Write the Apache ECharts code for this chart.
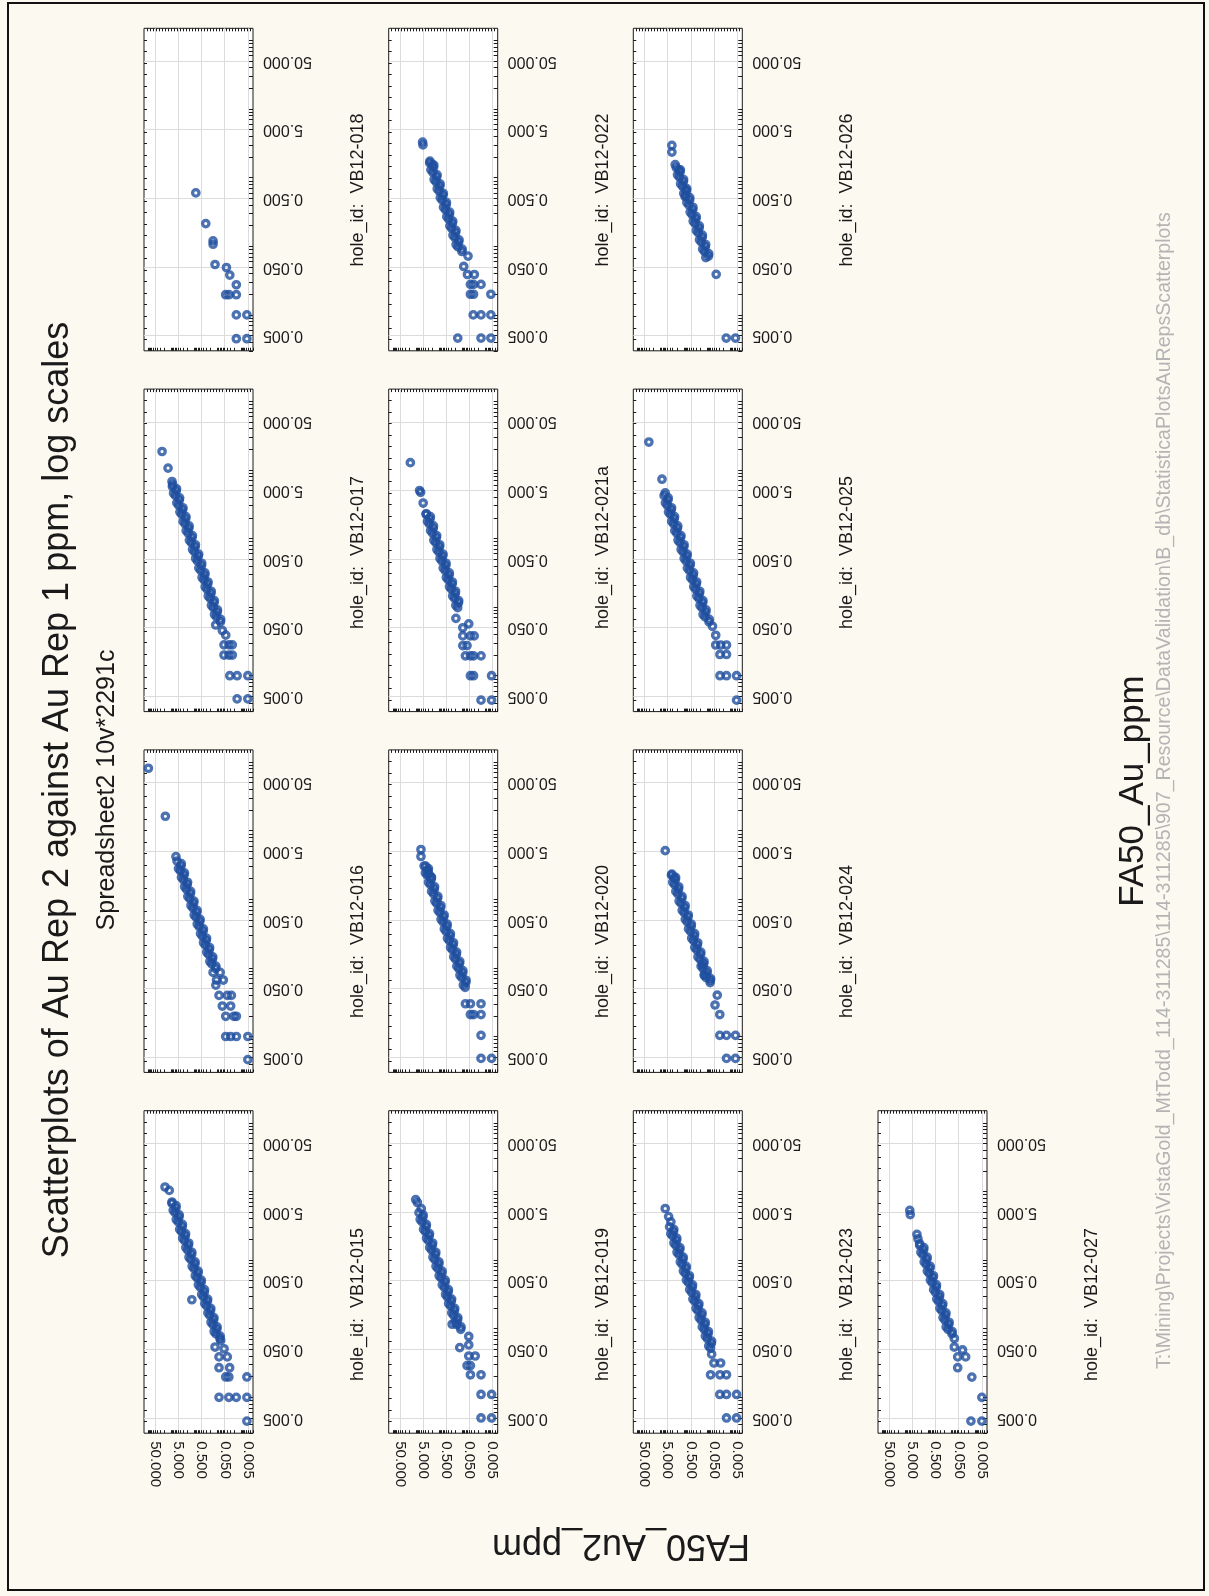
<!DOCTYPE html>
<html>
<head>
<meta charset="utf-8">
<script src="https://cdn.jsdelivr.net/npm/echarts@6/dist/echarts.min.js"></script>
<style>
  html, body { margin: 0; padding: 0; background: #fcf9f1; }
  #chart { width: 1209px; height: 1596px; }
</style>
</head>
<body>
<div id="chart"></div>
<script>
// ---- text ----
const TITLE = 'Scatterplots of Au Rep 2 against Au Rep 1 ppm, log scales';
const SUBTITLE = 'Spreadsheet2 10v*2291c';
const X_TITLE = 'FA50_Au_ppm';
const Y_TITLE = 'FA50_Au2_ppm';
const FOOTER = 'T:\\Mining\\Projects\\VistaGold_MtTodd_114-311285\\114-311285\\907_Resource\\DataValidation\\B_db\\StatisticaPlotsAuRepsScatterplots';

// ---- axes (ppm, log scale) ----
const AXIS_MIN = 0.003;
const AXIS_MAX = 150;
const MAJOR_TICKS = [0.005, 0.05, 0.5, 5, 50];

// ---- hole ids, in panel order ----
const holeIds = ['VB12-015', 'VB12-016', 'VB12-017', 'VB12-018',
                 'VB12-019', 'VB12-020', 'VB12-021a', 'VB12-022',
                 'VB12-023', 'VB12-024', 'VB12-025', 'VB12-026',
                 'VB12-027'];

// ---- assays per hole: [FA50_Au2_ppm, FA50_Au_ppm] ----
const VB12_015 = [[18.6,11.6],[12.2,10.35],[9.3,7.0],
  [9.38,6.7],[6.33,5.7],[6.86,4.9],[4.66,4.2],[5.04,3.6],[3.39,3.05],[3.64,2.6],[2.5,2.25],[2.69,1.92],[1.82,1.64],
  [1.96,1.4],[1.33,1.2],[1.43,1.02],[0.966,0.87],[1.05,0.75],[0.71,0.64],[0.77,0.55],[0.52,0.47],[0.56,0.4],[0.377,0.34],
  [0.406,0.29],[0.278,0.25],[0.301,0.215],[0.203,0.183],[0.22,0.157],[0.149,0.134],[0.161,0.115],[0.109,0.098],[0.118,0.084],[0.08,0.072],
  [6.2,6.2],[8.27,5.3],[4.55,4.55],[6.08,3.9],[3.3,3.3],[4.37,2.8],[2.42,2.42],[3.24,2.08],[1.77,1.77],[2.37,1.52],
  [1.3,1.3],[1.72,1.1],[0.94,0.94],[1.26,0.81],[0.69,0.69],[0.92,0.59],[0.51,0.51],[0.68,0.435],[0.37,0.37],[0.49,0.315],
  [0.27,0.27],[0.362,0.232],[0.198,0.198],[0.265,0.17],[0.145,0.145],[0.193,0.124],[0.106,0.106],[0.142,0.091],[0.078,0.078],
  [1.3,0.264],
  [0.13,0.054],[0.074,0.0675],[0.053,0.051],[0.0875,0.0388],[0.0384,0.0388],[0.0875,0.027],[0.0305,0.027],[0.045,0.0198],
  [0.033,0.0198],[0.0055,0.0198],[0.0875,0.01],[0.033,0.01],[0.0158,0.01],[0.0055,0.01],[0.0055,0.0045]];

const VB12_016 = [[97,81],[18,16.2],[6.3,4.18],
  [5.65,3.6],[3.81,3.05],[4.08,2.6],[2.81,2.25],[3.01,1.92],[2.05,1.64],[2.2,1.4],[1.5,1.2],[1.6,1.02],[1.09,0.87],
  [1.18,0.75],[0.8,0.64],[0.86,0.55],[0.59,0.47],[0.63,0.4],[0.425,0.34],[0.455,0.29],[0.31,0.25],[0.34,0.215],[0.23,0.183],
  [0.246,0.157],[0.168,0.134],[0.18,0.115],[0.123,0.098],
  [3.7,3.3],[4.9,2.8],[2.71,2.42],[3.64,2.08],[1.98,1.77],[2.66,1.52],[1.46,1.3],[1.93,1.1],[1.05,0.94],[1.42,0.81],
  [0.77,0.69],[1.03,0.59],[0.57,0.51],[0.76,0.435],[0.414,0.37],[0.55,0.315],[0.302,0.27],[0.406,0.232],[0.222,0.198],
  [0.298,0.17],[0.162,0.145],[0.217,0.124],[0.119,0.106],
  [0.158,0.086],[0.078,0.086],[0.112,0.0665],[0.057,0.0665],[0.12,0.056],[0.0875,0.0397],[0.0384,0.0397],[0.0257,0.0397],
  [0.063,0.0278],[0.0276,0.0278],[0.045,0.0197],[0.02,0.0197],[0.0156,0.0197],[0.045,0.01],[0.0276,0.01],[0.0156,0.01],
  [0.005,0.01],[0.005,0.0046]];

const VB12_017 = [[25,18.5],[13.8,10.6],[9.3,6.75],[8.74,6.1],
  [8.95,5.7],[6.13,4.9],[6.59,4.2],[4.5,3.6],[4.79,3.05],[3.25,2.6],[3.53,2.25],[2.4,1.92],[2.57,1.64],[1.75,1.4],
  [1.88,1.2],[1.28,1.02],[1.37,0.87],[0.94,0.75],[1.0,0.64],[0.69,0.55],[0.74,0.47],[0.5,0.4],[0.53,0.34],[0.36,0.29],
  [0.39,0.25],[0.27,0.215],[0.29,0.183],[0.196,0.157],[0.21,0.134],[0.144,0.115],[0.154,0.098],[0.105,0.084],[0.113,0.072],[0.076,0.061],
  [5.94,5.3],[7.96,4.55],[4.37,3.9],[5.78,3.3],[3.14,2.8],[4.24,2.42],[2.33,2.08],[3.1,1.77],[1.7,1.52],[2.28,1.3],
  [1.23,1.1],[1.65,0.94],[0.91,0.81],[1.21,0.69],[0.66,0.59],[0.89,0.51],[0.487,0.435],[0.65,0.37],[0.353,0.315],[0.47,0.27],
  [0.26,0.232],[0.347,0.198],[0.19,0.17],[0.254,0.145],[0.139,0.124],[0.186,0.106],[0.102,0.091],[0.137,0.078],[0.074,0.066],
  [0.122,0.0548],[0.063,0.0456],[0.045,0.039],[0.0534,0.0282],[0.0326,0.0282],[0.0234,0.0282],[0.0534,0.02],[0.0326,0.02],
  [0.0234,0.02],[0.03,0.01],[0.0145,0.01],[0.005,0.01],[0.0145,0.0046],[0.005,0.0046]];

const VB12_018 = [[0.875,0.6],[0.326,0.214],[0.158,0.12],[0.158,0.107],[0.13,0.0543],[0.042,0.049],[0.03,0.038],
  [0.0157,0.0275],[0.0453,0.0197],[0.0326,0.0197],[0.0157,0.0197],[0.0157,0.01],[0.0055,0.01],[0.0157,0.0045],[0.0055,0.0045]];

const VB12_019 = [[10.3,7.6],[8.7,6.9],[5.9,5.6],
  [7.4,4.9],[5.04,4.2],[5.44,3.6],[3.66,3.05],[3.93,2.6],[2.7,2.25],[2.9,1.92],[1.97,1.64],[2.11,1.4],[1.44,1.2],
  [1.54,1.02],[1.04,0.87],[1.13,0.75],[0.77,0.64],[0.83,0.55],[0.56,0.47],[0.6,0.4],[0.41,0.34],[0.44,0.29],[0.3,0.25],
  [0.325,0.215],[0.22,0.183],[0.237,0.157],[0.161,0.134],[0.174,0.115],[0.118,0.098],
  [4.91,4.55],[6.59,3.9],[3.56,3.3],[4.73,2.8],[2.61,2.42],[3.52,2.08],[1.91,1.77],[2.57,1.52],[1.4,1.3],[1.86,1.1],
  [1.02,0.94],[1.37,0.81],[0.745,0.69],[1.0,0.59],[0.55,0.51],[0.735,0.435],[0.4,0.37],[0.53,0.315],[0.29,0.27],
  [0.392,0.232],[0.214,0.198],[0.287,0.17],[0.157,0.145],[0.21,0.124],[0.114,0.106],
  [0.276,0.116],[0.13,0.053],[0.053,0.077],[0.053,0.058],[0.053,0.04],[0.028,0.04],[0.063,0.029],[0.045,0.029],
  [0.045,0.0213],[0.0157,0.0213],[0.0157,0.011],[0.0055,0.011],[0.0157,0.005],[0.0055,0.005]];

const VB12_020 = [[6.1,5.3],[6.1,4.2],[3.84,3.04],[3.26,2.62],[2.76,2.32],[2.2,2.09],
  [4.45,3.05],[3.02,2.6],[3.29,2.25],[2.23,1.92],[2.39,1.64],[1.62,1.4],[1.75,1.2],[1.18,1.02],[1.27,0.87],[0.87,0.75],
  [0.93,0.64],[0.64,0.55],[0.69,0.47],[0.46,0.4],[0.5,0.34],[0.336,0.29],[0.365,0.25],[0.25,0.215],[0.267,0.183],[0.182,0.157],
  [0.196,0.134],[0.133,0.115],[0.143,0.098],[0.097,0.084],[0.105,0.072],[0.071,0.061],[0.076,0.052],
  [2.91,2.8],[3.94,2.42],[2.16,2.08],[2.89,1.77],[1.58,1.52],[2.12,1.3],[1.14,1.1],[1.53,0.94],[0.84,0.81],[1.12,0.69],
  [0.61,0.59],[0.83,0.51],[0.452,0.435],[0.6,0.37],[0.328,0.315],[0.44,0.27],[0.241,0.232],[0.323,0.198],[0.177,0.17],
  [0.236,0.145],[0.129,0.124],[0.173,0.106],[0.095,0.091],[0.127,0.078],[0.069,0.066],[0.091,0.056],
  [0.074,0.03],[0.045,0.03],[0.0157,0.03],[0.045,0.0209],[0.033,0.0209],[0.0157,0.0209],[0.0157,0.0104],
  [0.0157,0.0048],[0.0055,0.0048]];

const VB12_021a = [[17.5,12.7],[7.0,5.0],[6.3,4.7],[4.9,3.28],[3.6,2.29],
  [3.65,2.25],[2.48,1.92],[2.66,1.64],[1.81,1.4],[1.94,1.2],[1.32,1.02],[1.41,0.87],[0.97,0.75],[1.04,0.64],[0.71,0.55],
  [0.76,0.47],[0.52,0.4],[0.55,0.34],[0.374,0.29],[0.405,0.25],[0.277,0.215],[0.296,0.183],[0.203,0.157],[0.217,0.134],
  [0.148,0.115],[0.159,0.098],
  [2.41,2.08],[3.2,1.77],[1.76,1.52],[2.35,1.3],[1.28,1.1],[1.7,0.94],[0.94,0.81],[1.25,0.69],[0.68,0.59],[0.92,0.51],
  [0.505,0.435],[0.67,0.37],[0.365,0.315],[0.49,0.27],[0.269,0.232],[0.358,0.198],[0.197,0.17],[0.262,0.145],
  [0.144,0.124],[0.192,0.106],
  [0.19,0.0685],[0.096,0.05],[0.053,0.057],[0.096,0.038],[0.045,0.038],[0.031,0.038],[0.096,0.0275],[0.063,0.0275],
  [0.074,0.0195],[0.045,0.0195],[0.033,0.0195],[0.0157,0.0195],[0.045,0.01],[0.033,0.01],[0.0055,0.01],
  [0.0157,0.0044],[0.0055,0.0044]];

const VB12_022 = [[5.2,3.3],[5.0,3.0],[2.5,1.74],[1.99,1.55],
  [2.57,1.64],[1.75,1.4],[1.88,1.2],[1.28,1.02],[1.37,0.87],[0.94,0.75],[1.0,0.64],[0.69,0.55],[0.74,0.47],[0.5,0.4],
  [0.53,0.34],[0.36,0.29],[0.39,0.25],[0.27,0.215],[0.29,0.183],[0.196,0.157],[0.21,0.134],[0.144,0.115],[0.154,0.098],[0.105,0.084],
  [1.7,1.52],[2.28,1.3],[1.23,1.1],[1.65,0.94],[0.91,0.81],[1.21,0.69],[0.66,0.59],[0.89,0.51],[0.487,0.435],[0.65,0.37],
  [0.353,0.315],[0.47,0.27],[0.26,0.232],[0.347,0.198],[0.19,0.17],[0.254,0.145],[0.139,0.124],[0.186,0.106],[0.102,0.091],
  [0.057,0.072],[0.0875,0.0508],[0.0605,0.0388],[0.0305,0.0388],[0.045,0.0278],[0.033,0.0278],[0.0157,0.0278],
  [0.045,0.02],[0.033,0.02],[0.0059,0.02],[0.034,0.01],[0.0157,0.01],[0.0059,0.01],[0.158,0.0046],[0.0157,0.0046],[0.0059,0.0046]];

const VB12_023 = [[6.3,5.64],[4.5,4.3],[3.6,3.6],
  [4.09,3.05],[2.78,2.6],[3.02,2.25],[2.05,1.92],[2.2,1.64],[1.5,1.4],[1.61,1.2],[1.09,1.02],[1.17,0.87],[0.8,0.75],
  [0.86,0.64],[0.59,0.55],[0.63,0.47],[0.43,0.4],[0.456,0.34],[0.31,0.29],[0.335,0.25],[0.23,0.215],[0.245,0.183],[0.168,0.157],
  [0.18,0.134],[0.123,0.115],[0.131,0.098],[0.09,0.084],[0.096,0.072],[0.065,0.061],[0.07,0.052],
  [2.69,2.8],[3.63,2.42],[2.0,2.08],[2.66,1.77],[1.46,1.52],[1.95,1.3],[1.06,1.1],[1.41,0.94],[0.78,0.81],[1.04,0.69],
  [0.57,0.59],[0.77,0.51],[0.418,0.435],[0.555,0.37],[0.302,0.315],[0.405,0.27],[0.223,0.232],[0.297,0.198],[0.163,0.17],
  [0.218,0.145],[0.119,0.124],[0.159,0.106],[0.087,0.091],[0.117,0.078],[0.063,0.066],[0.084,0.056],
  [0.063,0.0425],[0.05,0.0316],[0.0257,0.0316],[0.07,0.0213],[0.0276,0.0213],[0.0144,0.0213],[0.028,0.011],
  [0.0144,0.011],[0.0053,0.011],[0.0144,0.005],[0.0053,0.005]];

const VB12_024 = [[6.3,5.1],[3.26,2.32],[2.6,2.07],
  [3.4,2.25],[2.3,1.92],[2.48,1.64],[1.68,1.4],[1.81,1.2],[1.22,1.02],[1.31,0.87],[0.9,0.75],[0.97,0.64],[0.66,0.55],
  [0.71,0.47],[0.48,0.4],[0.51,0.34],[0.35,0.29],[0.38,0.25],[0.26,0.215],[0.276,0.183],[0.188,0.157],[0.2,0.134],[0.138,0.115],
  [0.148,0.098],[0.1,0.084],[0.109,0.072],[0.073,0.061],
  [2.25,2.08],[2.99,1.77],[1.64,1.52],[2.2,1.3],[1.19,1.1],[1.59,0.94],[0.875,0.81],[1.17,0.69],[0.637,0.59],[0.86,0.51],
  [0.47,0.435],[0.625,0.37],[0.34,0.315],[0.456,0.27],[0.25,0.232],[0.335,0.198],[0.184,0.17],[0.245,0.145],[0.134,0.124],
  [0.179,0.106],[0.098,0.091],[0.132,0.078],[0.071,0.066],
  [0.158,0.111],[0.127,0.079],[0.07,0.07],[0.036,0.04],[0.045,0.0288],[0.028,0.0209],[0.028,0.0104],[0.0144,0.0104],
  [0.0059,0.0104],[0.0144,0.0048],[0.0059,0.0048]];

const VB12_025 = [[32,25.4],[8.7,7.3],[6.3,4.6],
  [7.06,4.2],[4.82,3.6],[5.12,3.05],[3.48,2.6],[3.78,2.25],[2.57,1.92],[2.76,1.64],[1.88,1.4],[2.02,1.2],[1.37,1.02],
  [1.46,0.87],[1.0,0.75],[1.08,0.64],[0.74,0.55],[0.79,0.47],[0.54,0.4],[0.57,0.34],[0.39,0.29],[0.42,0.25],[0.29,0.215],
  [0.31,0.183],[0.21,0.157],[0.225,0.134],[0.154,0.115],[0.165,0.098],[0.113,0.084],[0.121,0.072],[0.082,0.061],
  [4.68,3.9],[6.2,3.3],[3.36,2.8],[4.55,2.42],[2.5,2.08],[3.33,1.77],[1.82,1.52],[2.44,1.3],[1.32,1.1],[1.77,0.94],
  [0.97,0.81],[1.3,0.69],[0.71,0.59],[0.96,0.51],[0.52,0.435],[0.7,0.37],[0.378,0.315],[0.51,0.27],[0.278,0.232],
  [0.372,0.198],[0.204,0.17],[0.273,0.145],[0.149,0.124],[0.2,0.106],[0.109,0.091],[0.147,0.078],[0.079,0.066],
  [0.058,0.0525],[0.042,0.0388],[0.042,0.028],[0.0257,0.028],[0.0144,0.028],[0.0276,0.0204],[0.0144,0.0204],
  [0.0276,0.01],[0.0144,0.01],[0.0053,0.01],[0.0053,0.0044]];

const VB12_026 = [[3.26,2.95],[3.26,2.36],[2.34,1.55],[1.6,1.29],[0.82,0.66],[0.88,0.53],
  [2.11,1.4],[1.44,1.2],[1.54,1.02],[1.04,0.87],[1.13,0.75],[0.77,0.64],[0.83,0.55],[0.56,0.47],[0.6,0.4],[0.41,0.34],
  [0.44,0.29],[0.3,0.25],[0.325,0.215],[0.22,0.183],[0.237,0.157],[0.161,0.134],[0.174,0.115],[0.118,0.098],[0.127,0.084],[0.086,0.072],
  [1.4,1.3],[1.86,1.1],[1.02,0.94],[1.37,0.81],[0.745,0.69],[1.0,0.59],[0.55,0.51],[0.735,0.435],[0.4,0.37],[0.53,0.315],
  [0.29,0.27],[0.392,0.232],[0.214,0.198],[0.287,0.17],[0.157,0.145],[0.21,0.124],[0.114,0.106],[0.154,0.091],[0.084,0.078],
  [0.112,0.0685],[0.04,0.039],[0.0148,0.0046],[0.0059,0.0046]];

const VB12_027 = [[6.4,5.29],[6.1,4.6],[3.15,2.37],[2.85,2.04],[2.4,1.73],
  [2.39,1.64],[1.62,1.4],[1.75,1.2],[1.18,1.02],[1.27,0.87],[0.87,0.75],[0.93,0.64],[0.64,0.55],[0.69,0.47],[0.46,0.4],
  [0.5,0.34],[0.336,0.29],[0.365,0.25],[0.25,0.215],[0.267,0.183],[0.182,0.157],[0.196,0.134],[0.133,0.115],[0.143,0.098],[0.097,0.084],
  [1.58,1.52],[2.12,1.3],[1.14,1.1],[1.53,0.94],[0.84,0.81],[1.12,0.69],[0.61,0.59],[0.83,0.51],[0.452,0.435],[0.6,0.37],
  [0.328,0.315],[0.44,0.27],[0.241,0.232],[0.323,0.198],[0.177,0.17],[0.236,0.145],[0.129,0.124],[0.173,0.106],[0.095,0.091],
  [0.077,0.072],[0.077,0.054],[0.034,0.049],[0.055,0.0388],[0.025,0.0388],[0.055,0.027],[0.0135,0.0197],[0.005,0.01],
  [0.0148,0.0045],[0.005,0.0045]];

const holeData = [VB12_015, VB12_016, VB12_017, VB12_018, VB12_019, VB12_020, VB12_021a,
                  VB12_022, VB12_023, VB12_024, VB12_025, VB12_026, VB12_027];

// ---- page layout (the sheet is printed turned a quarter turn) ----
const PANEL_W = 109, PANEL_H = 322.5;
const COL_X = [144, 388.7, 633.3, 878];          // one column per group of four holes
const ROW_Y = [28.3, 389.1, 749.9, 1110.7];       // top of each panel row
const LABEL_X = [358, 602.7, 847.4, 1092];
const LABEL_Y = [266.6, 629, 1018, 1381];         // where each hole caption starts
const INK = '#1a1a1a';
const MARK = '#1f4f9f';
const FONT = '"Liberation Sans", Arial, sans-serif';

const L0 = Math.log10(AXIS_MIN), L1 = Math.log10(AXIS_MAX);
const majorLog = MAJOR_TICKS.map(v => Math.log10(v));
const minorLog = [];
for (let e = -3; e <= 2; e++) {
  for (let k = 1; k <= 9; k++) {
    const v = Math.log10(k * Math.pow(10, e));
    if (v >= L0 && v <= L1) minorLog.push(v);
  }
}
function evenTicks(n) {
  const out = [];
  for (let j = 1; j < n; j++) out.push(L0 + (L1 - L0) * j / n);
  return out;
}
const fmt = v => Math.pow(10, v).toFixed(3);

const grids = [], xAxes = [], yAxes = [], series = [], graphics = [];

holeData.forEach((pts, i) => {
  const col = Math.floor(i / 4);
  const row = 3 - (i % 4);
  const left = COL_X[col], top = ROW_Y[row];
  grids.push({
    left: left, top: top, width: PANEL_W, height: PANEL_H,
    show: true, backgroundColor: '#ffffff', borderColor: INK, borderWidth: 1
  });
  const base = { gridIndex: i, type: 'value', min: L0, max: L1, splitLine: { show: false },
                 axisLine: { show: false, onZero: false }, axisLabel: { show: false }, axisTick: { show: false } };
  // horizontal: FA50_Au2_ppm, high values on the left
  xAxes.push(Object.assign({}, base, {
    position: 'bottom', inverse: true,
    axisTick: { show: false, customValues: majorLog },
    splitLine: { show: true, lineStyle: { color: '#dcdcdc', width: 1 } },
    axisLabel: { show: row === 3, customValues: majorLog, rotate: -90, margin: 8,
                 formatter: fmt, fontSize: 15, fontFamily: FONT, color: INK }
  }));
  xAxes.push(Object.assign({}, base, {
    position: 'bottom', inverse: true,
    axisTick: { show: true, inside: true, length: 3, customValues: minorLog, lineStyle: { color: INK, width: 1 } }
  }));
  xAxes.push(Object.assign({}, base, {
    position: 'top', inverse: true,
    axisTick: { show: true, inside: true, length: 3, customValues: evenTicks(36), lineStyle: { color: INK, width: 1 } }
  }));
  // vertical: FA50_Au_ppm
  yAxes.push(Object.assign({}, base, {
    position: 'right',
    axisTick: { show: false, customValues: majorLog },
    splitLine: { show: true, lineStyle: { color: '#dcdcdc', width: 1 } },
    axisLabel: { show: true, customValues: majorLog, rotate: 180, margin: 10,
                 formatter: fmt, fontSize: 16, fontFamily: FONT, color: INK }
  }));
  yAxes.push(Object.assign({}, base, {
    position: 'right',
    axisTick: { show: true, inside: true, length: 4, customValues: minorLog, lineStyle: { color: INK, width: 1 } }
  }));
  yAxes.push(Object.assign({}, base, {
    position: 'left',
    axisTick: { show: true, inside: true, length: 3, customValues: evenTicks(28), lineStyle: { color: INK, width: 1 } }
  }));
  series.push({
    type: 'scatter', name: holeIds[i], xAxisIndex: 3 * i, yAxisIndex: 3 * i,
    data: pts.map(p => [Math.log10(p[0]), Math.log10(p[1])]),
    symbol: 'circle', symbolSize: 6.4, silent: true,
    itemStyle: { color: 'rgba(0,0,0,0)', borderColor: MARK, borderWidth: 3.3 }
  });
  graphics.push({
    type: 'text', x: LABEL_X[col], y: LABEL_Y[row], rotation: Math.PI / 2,
    style: { text: 'hole_id:  ' + holeIds[i], fontSize: 18, fontFamily: FONT, fill: INK,
             align: 'left', verticalAlign: 'middle' }
  });
});

graphics.push(
  { type: 'rect', shape: { x: 8, y: 3, width: 1196, height: 1587 }, silent: true,
    style: { fill: 'none', stroke: '#111', lineWidth: 2 } },
  { type: 'text', x: 58, y: 790, rotation: Math.PI / 2,
    style: { text: TITLE, fontSize: 36, fontFamily: FONT, fill: INK, align: 'center', verticalAlign: 'middle' } },
  { type: 'text', x: 107, y: 790, rotation: Math.PI / 2,
    style: { text: SUBTITLE, fontSize: 25, fontFamily: FONT, fill: INK, align: 'center', verticalAlign: 'middle' } },
  { type: 'text', x: 1133, y: 791, rotation: Math.PI / 2,
    style: { text: X_TITLE, fontSize: 35, fontFamily: FONT, fill: INK, align: 'center', verticalAlign: 'middle' } },
  { type: 'text', x: 621, y: 1545, rotation: Math.PI,
    style: { text: Y_TITLE, fontSize: 36, fontFamily: FONT, fill: INK, align: 'center', verticalAlign: 'middle' } },
  { type: 'text', x: 1165, y: 1369, rotation: Math.PI / 2,
    style: { text: FOOTER, fontSize: 19.6, fontFamily: FONT, fill: '#b4b4b4', align: 'left', verticalAlign: 'middle' } }
);

const chart = echarts.init(document.getElementById('chart'), null, { renderer: 'canvas' });
chart.setOption({
  animation: false,
  backgroundColor: '#fcf9f1',
  grid: grids,
  xAxis: xAxes,
  yAxis: yAxes,
  series: series,
  graphic: graphics
});
</script>
</body>
</html>
